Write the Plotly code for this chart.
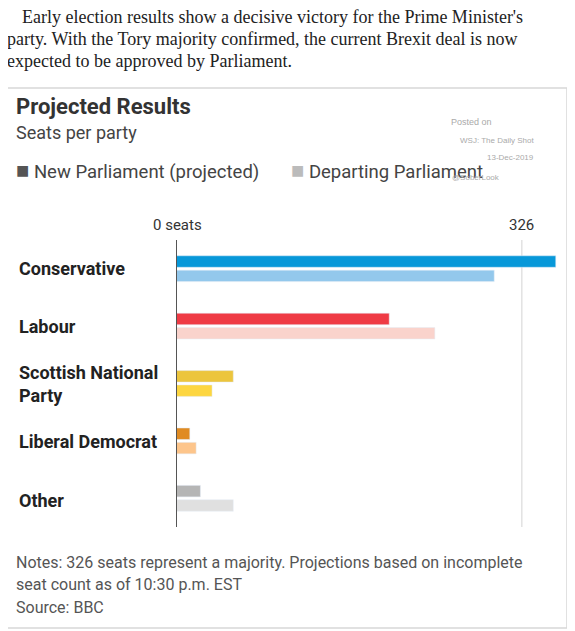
import plotly.graph_objects as go

parties = ["Conservative", "Labour", "Scottish National<br>Party", "Liberal Democrat", "Other"]
new_seats = [358, 201, 54, 13, 23]
departing_seats = [300, 244, 34, 19, 54]
new_colors = ["#0798d9", "#ef3b45", "#ecc53d", "#e08b22", "#b5b5b5"]
dep_colors = ["#93c8ec", "#fad3cc", "#fdd640", "#fdc58b", "#e0e0e0"]
majority = 326

O = 8  # page body margin
W, H = 575 - O, 631 - O
L, R, T, B = 176 - O, 15, 240 - O, 104
pw, ph = W - L - R, H - T - B
def px(x): return (x - O - L) / pw
def py(y): return 1 - (y - O - T) / ph

fig = go.Figure()
fig.add_bar(y=parties, x=new_seats, orientation="h", marker_color=new_colors,
            name="New Parliament (projected)", showlegend=False)
fig.add_bar(y=parties, x=departing_seats, orientation="h", marker_color=dep_colors,
            name="Departing Parliament", showlegend=False)

ann = []
SANS = "Roboto"
def t(x, y, s, size, color="#333", font=SANS, xa="left", ya="middle", bold=False):
    if bold: s = "<b>" + s + "</b>"
    ann.append(dict(x=px(x), y=py(y), xref="paper", yref="paper", text=s, showarrow=False,
                    xanchor=xa, yanchor=ya, align="left",
                    font=dict(size=size, color=color, family=font)))

serif = "Liberation Serif"
t(20, 17, "Early election results show a decisive victory for the Prime Minister's", 18, "#222", serif)
t(5, 39, "party. With the Tory majority confirmed, the current Brexit deal is now", 18, "#222", serif)
t(5, 61, "expected to be approved by Parliament.", 18, "#222", serif)
t(14, 106, "Projected Results", 22, "#333", bold=True)
t(14, 133, "Seats per party", 18, "#444")
t(14, 170, "<span style='color:#555;font-size:22px'>■</span> New Parliament (projected)", 18.5, "#444")
t(289, 170, "<span style='color:#bbb;font-size:22px'>■</span> Departing Parliament", 18.5, "#444")
t(449, 122, "Posted on", 9, "#aaa", "Liberation Sans")
t(536, 140, "WSJ: The Daily Shot", 8, "#aaa", "Liberation Sans", xa="right")
t(536, 157, "13-Dec-2019", 8, "#aaa", "Liberation Sans", xa="right")
t(450, 177, "@SoberLook", 8, "#aaa", "Liberation Sans")
t(177, 225, "0 seats", 15, "#333", xa="center")
t(521, 225, "326", 15, "#333", xa="center")
cat_y = [268, 326, 384, 441, 500]
for p, y in zip(parties, cat_y):
    t(17, y, p, 18, "#222", bold=True)
t(14, 562, "Notes: 326 seats represent a majority. Projections based on incomplete", 16, "#555")
t(14, 584, "seat count as of 10:30 p.m. EST", 16, "#555")
t(14, 607, "Source: BBC", 16, "#555")

shapes = [
    dict(type="rect", xref="paper", yref="paper", x0=px(5), x1=px(567), y0=py(88), y1=py(628),
         line=dict(color="#d8d8d8", width=1.5), layer="below"),
    dict(type="line", xref="x", yref="paper", x0=majority, x1=majority, y0=py(527), y1=py(240),
         line=dict(color="#e2e2e2", width=1.5), layer="below"),
    dict(type="line", xref="x", yref="paper", x0=0, x1=0, y0=py(527), y1=py(240),
         line=dict(color="#555", width=2)),
]

fig.update_layout(
    width=W, height=H, margin=dict(l=L, r=R, t=T, b=B),
    plot_bgcolor="white", paper_bgcolor="white",
    barmode="group", bargap=0.5, bargroupgap=0.2,
    xaxis=dict(range=[0, 362], showgrid=False, zeroline=False, showticklabels=False, fixedrange=True),
    yaxis=dict(autorange="reversed", showticklabels=False, showgrid=False, zeroline=False),
    annotations=ann, shapes=shapes,
)
fig.write_html("out.html")
